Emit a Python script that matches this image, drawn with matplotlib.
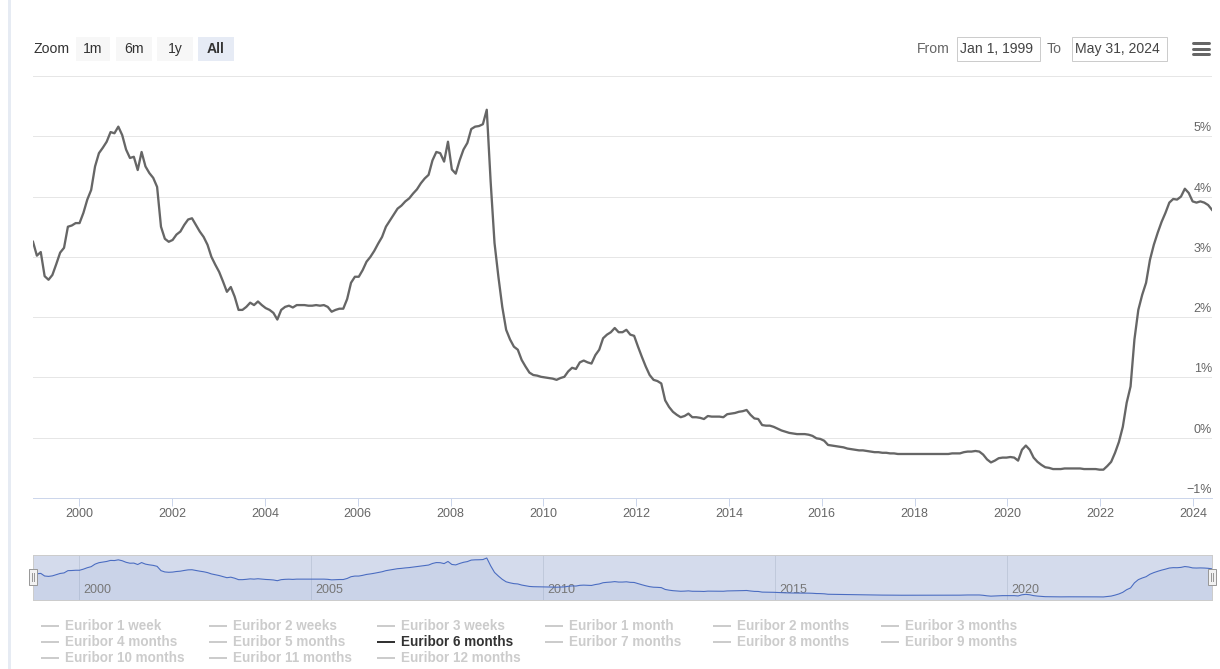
import numpy as np
import pandas as pd
import matplotlib
matplotlib.use("Agg")
import matplotlib.pyplot as plt
import matplotlib.dates as mdates
from matplotlib.patches import Rectangle
from matplotlib.lines import Line2D

plt.rcParams["font.family"] = ["Liberation Sans", "DejaVu Sans"]

W, H = 1220, 669

# Euribor 6 months, one reading per month (%)
y1999 = [3.25, 3.02, 3.08, 2.68, 2.62, 2.70, 2.88, 3.07, 3.15, 3.50, 3.52, 3.56]
y2000 = [3.56, 3.73, 3.95, 4.11, 4.50, 4.72, 4.81, 4.91, 5.07, 5.05, 5.16, 5.02]
y2001 = [4.78, 4.64, 4.66, 4.44, 4.74, 4.50, 4.39, 4.31, 4.16, 3.50, 3.30, 3.25]
y2002 = [3.28, 3.37, 3.42, 3.53, 3.62, 3.64, 3.53, 3.42, 3.33, 3.20, 3.00, 2.87]
y2003 = [2.75, 2.59, 2.42, 2.50, 2.34, 2.12, 2.12, 2.17, 2.24, 2.20, 2.26, 2.20]
y2004 = [2.15, 2.12, 2.07, 1.96, 2.12, 2.17, 2.19, 2.16, 2.20, 2.20, 2.20, 2.19]
y2005 = [2.19, 2.20, 2.19, 2.20, 2.17, 2.09, 2.12, 2.14, 2.14, 2.30, 2.57, 2.67]
y2006 = [2.67, 2.78, 2.92, 3.00, 3.10, 3.22, 3.33, 3.50, 3.60, 3.70, 3.80, 3.85]
y2007 = [3.92, 3.97, 4.05, 4.12, 4.22, 4.30, 4.36, 4.60, 4.74, 4.72, 4.58, 4.91]
y2008 = [4.45, 4.38, 4.60, 4.78, 4.89, 5.12, 5.16, 5.17, 5.20, 5.44, 4.25, 3.23]
y2009 = [2.67, 2.17, 1.79, 1.63, 1.51, 1.46, 1.29, 1.18, 1.08, 1.04, 1.03, 1.01]
y2010 = [1.00, 0.99, 0.98, 0.96, 0.99, 1.01, 1.10, 1.16, 1.14, 1.25, 1.28, 1.25]
y2011 = [1.23, 1.37, 1.46, 1.65, 1.71, 1.75, 1.82, 1.75, 1.75, 1.79, 1.71, 1.69]
y2012 = [1.51, 1.34, 1.18, 1.04, 0.96, 0.94, 0.90, 0.62, 0.51, 0.43, 0.38, 0.34]
y2013 = [0.36, 0.40, 0.34, 0.34, 0.33, 0.31, 0.36, 0.35, 0.35, 0.35, 0.34, 0.39]
y2014 = [0.40, 0.41, 0.43, 0.44, 0.46, 0.38, 0.32, 0.31, 0.21, 0.20, 0.20, 0.18]
y2015 = [0.15, 0.12, 0.10, 0.08, 0.07, 0.06, 0.06, 0.06, 0.05, 0.03, -0.01, -0.02]
y2016 = [-0.05, -0.12, -0.13, -0.14, -0.15, -0.16, -0.18, -0.19, -0.20, -0.21, -0.21, -0.22]
y2017 = [-0.23, -0.24, -0.24, -0.25, -0.25, -0.26, -0.26, -0.27, -0.27, -0.27, -0.27, -0.27]
y2018 = [-0.27, -0.27, -0.27, -0.27, -0.27, -0.27, -0.27, -0.27, -0.27, -0.26, -0.26, -0.26]
y2019 = [-0.24, -0.23, -0.23, -0.22, -0.23, -0.28, -0.36, -0.41, -0.38, -0.34, -0.33, -0.33]
y2020 = [-0.32, -0.33, -0.38, -0.20, -0.13, -0.20, -0.33, -0.40, -0.45, -0.49, -0.50, -0.52]
y2021 = [-0.52, -0.52, -0.51, -0.51, -0.51, -0.51, -0.51, -0.52, -0.52, -0.52, -0.52, -0.53]
y2022 = [-0.53, -0.47, -0.40, -0.25, -0.07, 0.18, 0.58, 0.85, 1.63, 2.12, 2.37, 2.57]
y2023 = [2.95, 3.20, 3.40, 3.58, 3.73, 3.90, 3.96, 3.95, 4.00, 4.13, 4.06, 3.92]
y2024 = [3.90, 3.92, 3.90, 3.86, 3.78]

rates = np.array(y1999 + y2000 + y2001 + y2002 + y2003 + y2004 + y2005 + y2006
                 + y2007 + y2008 + y2009 + y2010 + y2011 + y2012 + y2013 + y2014
                 + y2015 + y2016 + y2017 + y2018 + y2019 + y2020 + y2021 + y2022
                 + y2023 + y2024)
dates = pd.date_range("1999-01-01", "2024-05-31", periods=len(rates))

tick_years = list(range(2000, 2025, 2))
nav_years = [2000, 2005, 2010, 2015, 2020]
y_ticks = [-1, 0, 1, 2, 3, 4, 5]
grid_levels = [0, 1, 2, 3, 4, 5, 6]
zoom_buttons = ["1m", "6m", "1y", "All"]
legend_names = ["Euribor 1 week", "Euribor 2 weeks", "Euribor 3 weeks",
                "Euribor 1 month", "Euribor 2 months", "Euribor 3 months",
                "Euribor 4 months", "Euribor 5 months", "Euribor 6 months",
                "Euribor 7 months", "Euribor 8 months", "Euribor 9 months",
                "Euribor 10 months", "Euribor 11 months", "Euribor 12 months"]
active_series = "Euribor 6 months"


def fx(x):
    return x / W


def fy(y):
    return 1 - y / H


def pt(px):
    return px * 0.72


def rect(x0, y0, x1, y1, **kw):
    fig.add_artist(Rectangle((fx(x0), fy(y1)), fx(x1) - fx(x0), fy(y0) - fy(y1),
                             transform=fig.transFigure, **kw))


fig = plt.figure(figsize=(W / 100, H / 100), dpi=100)
fig.patch.set_facecolor("white")

# page border on the left
fig.add_artist(Line2D([fx(9), fx(9)], [0, 1], color="#e6ebf3", lw=pt(3)))

# ── main chart ──────────────────────────────────────────────────────────
ax = fig.add_axes([fx(33), fy(498), fx(1212) - fx(33), fy(76) - fy(498)])
ax.plot(dates, rates, color="#666666", lw=pt(2.3), solid_joinstyle="round", zorder=3)
ax.set_xlim(dates[0], dates[-1])
ax.set_ylim(-1, 6)
for v in grid_levels:
    ax.axhline(v, color="#e6e6e6", lw=pt(1), zorder=1)
for s in ["top", "left", "right"]:
    ax.spines[s].set_visible(False)
ax.spines["bottom"].set_color("#ccd6eb")
ax.spines["bottom"].set_linewidth(pt(1))
ax.set_yticks([])
ax.set_xticks([pd.Timestamp(f"{y}-01-01") for y in tick_years])
ax.set_xticklabels([str(y) for y in tick_years])
ax.tick_params(axis="x", length=pt(8), width=pt(1), color="#ccd6eb",
               labelcolor="#666666", labelsize=pt(12.5), pad=pt(2))
for v in y_ticks:
    lab = f"{v}%".replace("-", "\u2212")
    ax.annotate(lab, xy=(1, v), xycoords=ax.get_yaxis_transform(),
                xytext=(0, pt(2)), textcoords="offset points",
                ha="right", va="bottom", color="#666666", fontsize=pt(12.5), zorder=2)

# ── navigator ───────────────────────────────────────────────────────────
nav = fig.add_axes([fx(33), fy(600), fx(1212) - fx(33), fy(555) - fy(600)])
nav.set_facecolor("#d4dbec")
nav.fill_between(dates, rates, -1.0, color="#335cad", alpha=0.06, lw=0, zorder=2)
nav.plot(dates, rates, color="#4a6cc1", lw=pt(1.1), zorder=4)
nav.set_xlim(dates[0], dates[-1])
nav.set_ylim(-1.0, 5.9)
nav.set_xticks([])
nav.set_yticks([])
for s in nav.spines.values():
    s.set_color("#cccccc")
    s.set_linewidth(pt(1))
for y in nav_years:
    d = mdates.date2num(pd.Timestamp(f"{y}-01-01"))
    nav.axvline(d, color="#c0c9db", lw=pt(1), zorder=1)
    nav.annotate(str(y), xy=(d, 0.22), xycoords=nav.get_xaxis_transform(),
                 xytext=(pt(4), 0), textcoords="offset points",
                 ha="left", va="center", color="#777777", fontsize=pt(12.5), zorder=3)

# navigator handles
for hx in (33, 1212):
    rect(hx - 4, 569, hx + 4, 585, facecolor="#f2f2f2", edgecolor="#999999", lw=pt(1), zorder=10)
    for dx in (-1.2, 1.2):
        fig.add_artist(Line2D([fx(hx + dx)] * 2, [fy(573), fy(581)],
                              color="#999999", lw=pt(1), zorder=11))

# ── range selector & inputs ─────────────────────────────────────────────
fig.text(fx(33), fy(49), "Zoom", ha="left", va="center", color="#333333", fontsize=pt(14))
btn_x = [(76, 110), (116, 152), (157, 193), (198, 234)]
for label, (x0, x1) in zip(zoom_buttons, btn_x):
    sel = label == "All"
    rect(x0, 37, x1, 61, facecolor="#e6ebf5" if sel else "#f7f7f7", edgecolor="none")
    fig.text(fx((x0 + x1) / 2), fy(49), label, ha="center", va="center",
             color="#333333", fontsize=pt(14), fontweight="bold" if sel else "normal")

fig.text(fx(917), fy(49), "From", ha="left", va="center", color="#666666", fontsize=pt(14))
rect(957, 37, 1040, 61, facecolor="white", edgecolor="#cccccc", lw=pt(1))
fig.text(fx(960), fy(49), "Jan 1, 1999", ha="left", va="center", color="#444444", fontsize=pt(14))
fig.text(fx(1047), fy(49), "To", ha="left", va="center", color="#666666", fontsize=pt(14))
rect(1072, 37, 1167, 61, facecolor="white", edgecolor="#cccccc", lw=pt(1))
fig.text(fx(1075), fy(49), "May 31, 2024", ha="left", va="center", color="#444444", fontsize=pt(14))

# export menu icon
for yy in (43, 48.5, 54):
    fig.add_artist(Line2D([fx(1193), fx(1209)], [fy(yy), fy(yy)], color="#666666",
                          lw=pt(3), solid_capstyle="round"))

# ── legend ──────────────────────────────────────────────────────────────
for i, name in enumerate(legend_names):
    r, c = divmod(i, 6)
    x0 = 42 + 168 * c
    y0 = 626 + 16 * r
    col = "#333333" if name == active_series else "#cccccc"
    fig.add_artist(Line2D([fx(x0), fx(x0 + 16)], [fy(y0), fy(y0)], color=col, lw=pt(2)))
    fig.text(fx(x0 + 23), fy(y0), name, ha="left", va="center", color=col,
             fontsize=pt(13.5), fontweight="bold")

fig.savefig("out.png", dpi=100, facecolor="white")
